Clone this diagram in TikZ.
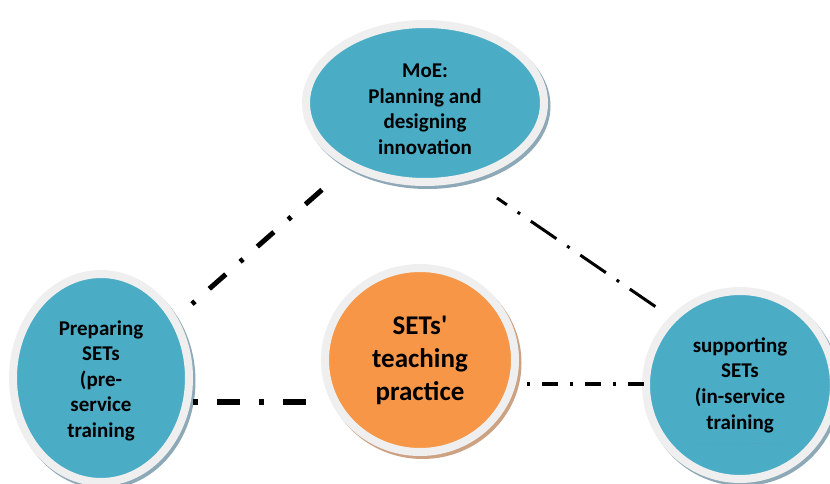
\documentclass[tikz,border=0pt]{standalone}
\usepackage{fontspec}
\setmainfont{Carlito}
\usepackage{tikz}
\usetikzlibrary{shapes.geometric,calc}
\definecolor{setblue}{HTML}{4BACC6}
\definecolor{setorange}{HTML}{F79646}
\definecolor{ringgrey}{HTML}{EFEFEF}
\definecolor{shadeblue}{HTML}{8DA8B6}
\definecolor{shadeorange}{HTML}{CDA283}

\begin{document}
\begin{tikzpicture}[x=1pt, y=-1pt,
	disc/.style={ellipse, draw=ringgrey, line width=8pt, fill=#1, inner sep=0pt, align=center, font=\bfseries\fontsize{21}{25.6}\selectfont},
	shade/.style={preaction={draw=#1, fill=#1, line width=8pt, transform canvas={shift={(2.5pt,-3pt)}}}},
	linkthick/.style={line width=5.5pt, dash pattern=on 5pt off 19pt on 23pt off 19pt},
	linkslant/.style={line width=5pt, dash pattern=on 4pt off 19pt on 22pt off 19pt},
	linkthin/.style={line width=3pt, dash pattern=on 31pt off 13pt on 3pt off 13pt, dash phase=19pt},
	linkfine/.style={line width=3.5pt, dash pattern=on 3pt off 12pt on 16pt off 12pt} ]

	\useasboundingbox (0,0) rectangle (830,484);

	\node[disc=setblue, shade=shadeblue, minimum width=238pt, minimum height=158pt] (moe) at (425,103) {\rule{0pt}{26pt}MoE:\\Planning and\\designing\\innovation};
	\node[disc=setblue, shade=shadeblue, minimum width=176pt, minimum height=208pt] (prep) at (101,378) {\rule{0pt}{20pt}Preparing\\SETs\\(pre-\\service\\training};
	\node[disc=setorange, shade=shadeorange, minimum width=190pt, minimum height=184pt, font=\bfseries\fontsize{27}{33}\selectfont] (prac) at (420,360) {SETs\textquotesingle\\teaching\\practice};
	\node[disc=setblue, shade=shadeblue, minimum width=188pt, minimum height=188pt] (supp) at (740,385) {supporting\\SETs\\(in-service\\training};
	\draw[setblue!75!gray, line width=0.6pt, dotted] ($(supp)+(-43,58)$) -- ($(supp)+(45,58)$);

	% links
	\draw[linkslant] ($(prep)+(91,-74)$) -- ($(moe)+(-101,85)$);
	\draw[linkthin] ($(moe)+(72,95)$) -- ($(supp)+(-84,-78)$);
	\draw[linkthick] ($(prep)+(92,24)$) -- ($(prac)+(-113,42)$);
	\draw[linkfine] ($(prac)+(107,24)$) -- ($(supp)+(-95,-1)$);
\end{tikzpicture}
\end{document}
